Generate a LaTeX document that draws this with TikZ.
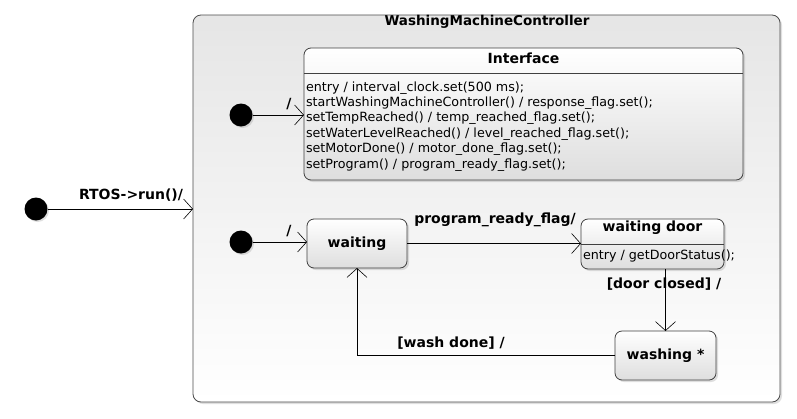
\documentclass[tikz,border=0pt]{standalone}
\usepackage{fontspec}
\setmainfont{DejaVu Sans}
\usetikzlibrary{arrows.meta,shadows}
\begin{document}
\begin{tikzpicture}[x=1pt,y=-1pt,
  every node/.style={inner sep=0pt, outer sep=0pt},
  state/.style={draw=black!75, line width=0.8pt, rounded corners=7pt, top color=white, bottom color=black!13,
    drop shadow={shadow xshift=2pt, shadow yshift=-2pt, opacity=0.25}},
  container/.style={draw=black!70, line width=0.8pt, rounded corners=8pt, top color=black!10, bottom color=white,
    drop shadow={shadow xshift=2pt, shadow yshift=-2pt, opacity=0.25}},
  init/.style={circle, fill=black, minimum size=23pt, drop shadow={shadow xshift=1.5pt, shadow yshift=-1.5pt, opacity=0.25}},
  tr/.style={-{Straight Barb[length=9pt,width=20pt]}, line width=0.6pt},
  lbl/.style={font=\fontsize{14}{16}\selectfont\bfseries},
  txt/.style={font=\fontsize{12.7}{15.4}\selectfont}
]
\useasboundingbox (0,0) rectangle (797,418);
\fill[white] (0,0) rectangle (797,418);

% container
\node[container, minimum width=587pt, minimum height=387pt] (ctr) at (486.5,208.5) {};
\node[lbl, font=\fontsize{13.5}{16}\selectfont\bfseries] (ctrt) at (487,22) {WashingMachineController};

% interface
\node[state, minimum width=439pt, minimum height=132pt] (iface) at (523.5,114) {};
\draw[black!75, line width=0.8pt] (iface.west |- 0,73) -- (iface.east |- 0,73);
\node[lbl] (ifacet) at (523.5,58) {Interface};
\node[txt, anchor=north west, align=left] (ifaceb) at (306,81.5) {entry / interval\_clock.set(500 ms);\\
startWashingMachineController() / response\_flag.set();\\
setTempReached() / temp\_reached\_flag.set();\\
setWaterLevelReached() / level\_reached\_flag.set();\\
setMotorDone() / motor\_done\_flag.set();\\
setProgram() / program\_ready\_flag.set();};

% states
\node[state, minimum width=100pt, minimum height=49pt] (waiting) at (357,243.5) {};
\node[lbl] (waitingt) at (357,243.5) {waiting};

\node[state, minimum width=143pt, minimum height=50pt] (door) at (652.5,244) {};
\draw[black!75, line width=0.8pt] (door.west |- 0,244) -- (door.east |- 0,244);
\node[lbl] (doort) at (652.5,228) {waiting door};
\node[txt, anchor=west] (doorb) at (583,255.5) {entry / getDoorStatus();};

\node[state, minimum width=101pt, minimum height=49pt] (washing) at (665.5,355.5) {};
\node[lbl] (washingt) at (665.5,355.5) {washing *};

% initial states
\node[init] (i0) at (36,209) {};
\node[init] (i1) at (241,115) {};
\node[init] (i2) at (241,242) {};

% transitions
\draw[tr] (i0) -- (i0 -| ctr.west);
\node[lbl] (l0) at (131,195) {RTOS->run()/};
\draw[tr] (i1) -- (i1 -| iface.west);
\node[lbl] (l1) at (289,104) {/};
\draw[tr] (i2) -- (i2 -| waiting.west);
\node[lbl] (l2) at (289,231) {/};
\draw[tr] (waiting.east) -- (waiting.east -| door.west);
\node[lbl] (l3) at (495,220) {program\_ready\_flag/};
\draw[tr] (door.south -| washing) -- (washing.north);
\node[lbl] (l4) at (664,284) {[door closed] /};
\draw[tr] (washing.west) -| (waiting.south);
\node[lbl] (l5) at (451,343) {[wash done] /};
\end{tikzpicture}
\end{document}
